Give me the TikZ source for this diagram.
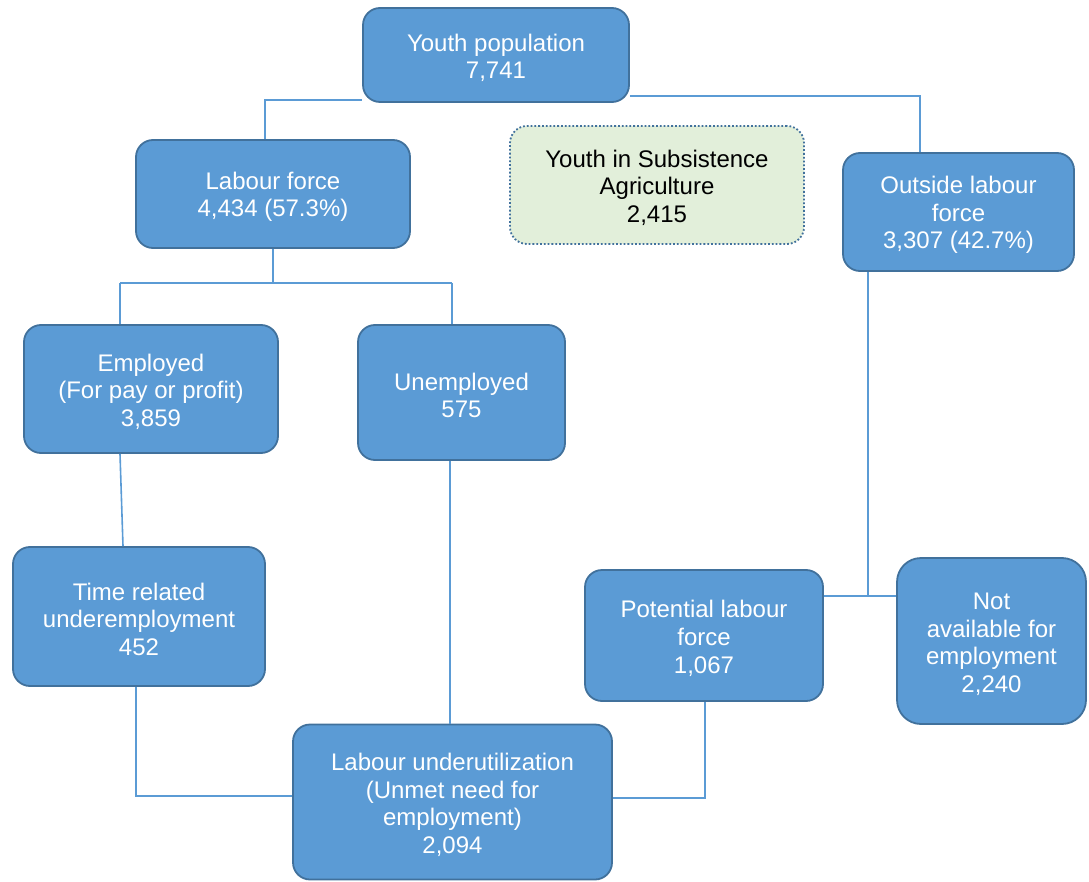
\documentclass[tikz,border=0pt]{standalone}
\usepackage{fontspec}
\setmainfont{Liberation Sans}
\definecolor{boxfill}{HTML}{5B9BD5}
\definecolor{boxborder}{HTML}{41719C}
\definecolor{agrifill}{HTML}{E2EFDA}
\definecolor{linecol}{HTML}{5B9BD5}
\newcommand\tp{\rule{0pt}{23pt}}
\begin{document}
\begin{tikzpicture}[x=1pt,y=-1pt,
  box/.style={draw=boxborder, fill=boxfill, rounded corners=17pt, line width=1.8pt,
    text=white, align=center, inner sep=0pt, font=\fontsize{24}{27.6}\selectfont},
  agribox/.style={draw=boxborder, fill=agrifill, rounded corners=17pt, line width=1.8pt, dotted,
    text=black, align=center, inner sep=0pt, font=\fontsize{24}{27.6}\selectfont},
  conn/.style={draw=linecol, line width=1.6pt}]
\useasboundingbox (0,0) rectangle (1089,882);
\node[box, minimum width=266pt, minimum height=94pt] (youth) at (496,55) {\tp Youth population\\7,741};
\node[box, minimum width=274pt, minimum height=108pt] (lab) at (273,194) {\tp Labour force\\4,434 (57.3\%)};
\node[agribox, minimum width=294pt, minimum height=118pt] (agri) at (657,185) {\tp Youth in Subsistence\\Agriculture\\2,415};
\node[box, minimum width=231pt, minimum height=118pt] (out) at (958.5,212) {\tp Outside labour\\force\\3,307 (42.7\%)};
\node[box, minimum width=254pt, minimum height=128pt] (emp) at (151,389) {\tp Employed\\(For pay or profit)\\3,859};
\node[box, minimum width=207pt, minimum height=135pt] (unemp) at (461.5,392.5) {\tp Unemployed\\575};
\node[box, minimum width=252pt, minimum height=139pt] (time) at (139,616.5) {\tp Time related\\underemployment\\452};
\node[box, minimum width=238pt, minimum height=131pt] (pot) at (704,635.5) {\tp Potential labour\\force\\1,067};
\node[box, minimum width=189pt, minimum height=166pt, rounded corners=24pt] (notav) at (991.5,641) {\tp Not\\available for\\employment\\2,240};
\node[box, minimum width=319pt, minimum height=155pt] (under) at (452.5,802) {\tp Labour underutilization\\(Unmet need for\\employment)\\2,094};
% junction coordinates
\coordinate (j1) at (265,100);
\coordinate (j2) at (920,96);
\coordinate (j3) at (273,283);
\coordinate (bl) at (120,283);
\coordinate (br) at (452,283);
\coordinate (j4) at (868,596);
\coordinate (j5) at (136,796);
\coordinate (j6) at (705,798);
% connectors
\draw[conn] (lab.north -| j1) -- (j1) -- (j1 -| youth.west);
\draw[conn] (youth.east |- j2) -- (j2) -- (j2 |- out.north);
\draw[conn] (lab.south -| j3) -- (j3);
\draw[conn] (bl) -- (br);
\draw[conn] (bl) -- (emp.north -| bl);
\draw[conn] (br) -- (unemp.north -| br);
\draw[conn] (emp.south -| bl) -- ([xshift=3pt]time.north -| bl);
\draw[conn] (unemp.south -| 450,0) -- (under.north -| 450,0);
\draw[conn] (time.south -| j5) -- (j5) -- (j5 -| under.west);
\draw[conn] (pot.south -| j6) -- (j6) -- (j6 -| under.east);
\draw[conn] (out.south -| j4) -- (j4);
\draw[conn] (pot.east |- j4) -- (notav.west |- j4);
\end{tikzpicture}
\end{document}
